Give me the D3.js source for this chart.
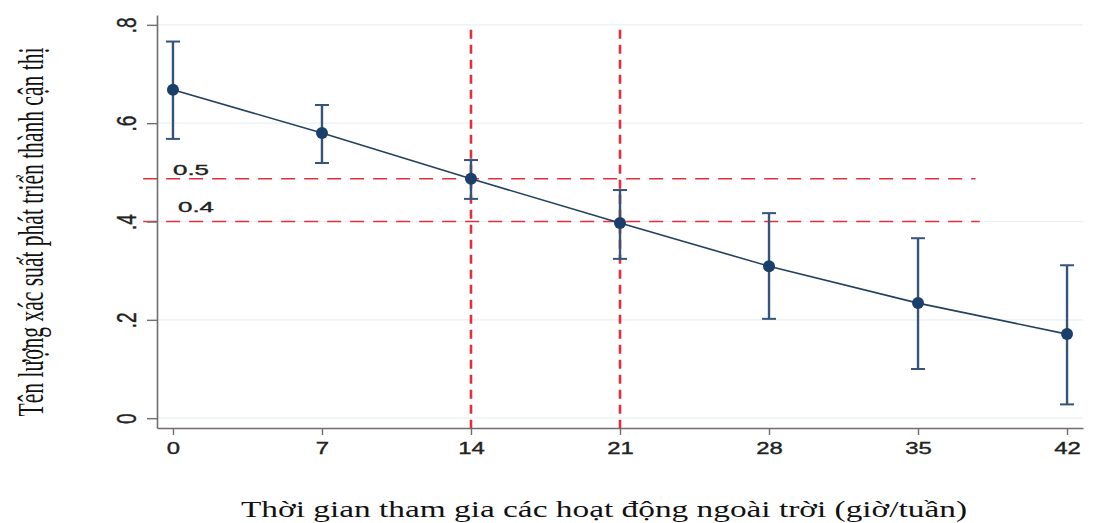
<!DOCTYPE html>
<html>
<head>
<meta charset="utf-8">
<script src="https://cdn.jsdelivr.net/npm/d3@7"></script>
<style>
  html, body { margin: 0; padding: 0; background: #fff; }
  svg { display: block; }
</style>
</head>
<body>
<script>
// Outdoor hours per week vs predicted probability of myopia
const hours = [0, 7, 14, 21, 28, 35, 42];
const prob  = [0.668, 0.580, 0.487, 0.397, 0.309, 0.234, 0.171];
const ciLow = [0.568, 0.519, 0.446, 0.324, 0.202, 0.100, 0.028];
const ciHigh = [0.766, 0.637, 0.525, 0.464, 0.417, 0.366, 0.311];

const yTicks = [0, 0.2, 0.4, 0.6, 0.8];
const yTickLabels = ["0", ".2", ".4", ".6", ".8"];

// reference lines
const refY = [0.487, 0.4];
const refYLabels = ["0.5", "0.4"];
const refYEnd = [37.7, 37.9];
const refX = [14, 21];

const width = 1095;
const height = 523;

const svg = d3.select("body").append("svg")
  .attr("width", width)
  .attr("height", height);

const x = d3.scaleLinear().domain([-0.75, 42.75]).range([157, 1083]);
const y = d3.scaleLinear().domain([-0.02, 0.82]).range([428, 15]);

// grid lines
svg.append("g")
  .selectAll("line")
  .data(yTicks)
  .join("line")
  .attr("x1", x(-0.75))
  .attr("x2", x(42.75))
  .attr("y1", d => y(d))
  .attr("y2", d => y(d))
  .attr("stroke", "#e9eff2")
  .attr("stroke-width", 1.2);

// horizontal dashed reference lines
svg.append("g")
  .selectAll("line")
  .data(refY)
  .join("line")
  .attr("x1", x(-1.4))
  .attr("x2", (d, i) => x(refYEnd[i]))
  .attr("y1", d => y(d))
  .attr("y2", d => y(d))
  .attr("stroke", "#e0303d")
  .attr("stroke-width", 1.4)
  .attr("stroke-dasharray", "14,9");

// vertical dashed reference lines
svg.append("g")
  .selectAll("line")
  .data(refX)
  .join("line")
  .attr("x1", d => x(d))
  .attr("x2", d => x(d))
  .attr("y1", y(0.79))
  .attr("y2", y(-0.024))
  .attr("stroke", "#e0303d")
  .attr("stroke-width", 2.6)
  .attr("stroke-dasharray", "9,6");

// axes
const yAxis = svg.append("g")
  .attr("transform", `translate(${x(-0.75)},0)`)
  .call(d3.axisLeft(y).tickValues(yTicks).tickSize(10).tickSizeOuter(0)
    .tickFormat((d, i) => yTickLabels[i]));
yAxis.select(".domain").attr("stroke", "#6e6e6e").attr("stroke-width", 1.6);
yAxis.selectAll(".tick line").attr("stroke", "#6e6e6e").attr("stroke-width", 1.4);
yAxis.selectAll(".tick text")
  .attr("x", null).attr("dy", null)
  .attr("text-anchor", "middle")
  .attr("transform", "translate(-21,0) rotate(-90) scale(0.68,1)")
  .attr("font-family", "Liberation Sans, Arial, sans-serif")
  .attr("font-size", 28)
  .attr("fill", "#222")
  .attr("stroke", "#222")
  .attr("stroke-width", 0.4);

const xAxis = svg.append("g")
  .attr("transform", `translate(0,${y(-0.02)})`)
  .call(d3.axisBottom(x).tickValues(hours).tickSize(7).tickSizeOuter(0));
xAxis.select(".domain").attr("stroke", "#6e6e6e").attr("stroke-width", 1.6);
xAxis.selectAll(".tick line").attr("stroke", "#6e6e6e").attr("stroke-width", 1.4);
xAxis.selectAll(".tick text")
  .attr("y", 26).attr("dy", null)
  .attr("transform", "scale(1.45,1)")
  .attr("font-family", "Liberation Sans, Arial, sans-serif")
  .attr("font-size", 16.5)
  .attr("fill", "#222")
  .attr("stroke", "#222")
  .attr("stroke-width", 0.35);

// reference labels
svg.append("g")
  .selectAll("text")
  .data(refYLabels)
  .join("text")
  .attr("x", (d, i) => i === 0 ? 173 : 178)
  .attr("y", (d, i) => i === 0 ? 175 : 212)
  .attr("textLength", 36)
  .attr("lengthAdjust", "spacingAndGlyphs")
  .attr("font-family", "Liberation Sans, Arial, sans-serif")
  .attr("font-size", 14.5)
  .attr("fill", "#222")
  .attr("stroke", "#222")
  .attr("stroke-width", 0.35)
  .text(d => d);

// error bars
const pts = hours.map((h, i) => ({ h, p: prob[i], lo: ciLow[i], hi: ciHigh[i] }));
const errColor = "#36547a";
const bars = svg.append("g");
bars.selectAll(".stem")
  .data(pts)
  .join("line")
  .attr("x1", d => x(d.h)).attr("x2", d => x(d.h))
  .attr("y1", d => y(d.lo)).attr("y2", d => y(d.hi))
  .attr("stroke", errColor).attr("stroke-width", 2.4);
bars.selectAll(".capHi")
  .data(pts)
  .join("line")
  .attr("x1", d => x(d.h) - 7).attr("x2", d => x(d.h) + 7)
  .attr("y1", d => y(d.hi)).attr("y2", d => y(d.hi))
  .attr("stroke", errColor).attr("stroke-width", 2);
bars.selectAll(".capLo")
  .data(pts)
  .join("line")
  .attr("x1", d => x(d.h) - 7).attr("x2", d => x(d.h) + 7)
  .attr("y1", d => y(d.lo)).attr("y2", d => y(d.lo))
  .attr("stroke", errColor).attr("stroke-width", 2);

// connecting line
svg.append("path")
  .datum(pts)
  .attr("fill", "none")
  .attr("stroke", "#23405e")
  .attr("stroke-width", 1.6)
  .attr("d", d3.line().x(d => x(d.h)).y(d => y(d.p)));

// markers
svg.append("g")
  .selectAll("circle")
  .data(pts)
  .join("circle")
  .attr("cx", d => x(d.h))
  .attr("cy", d => y(d.p))
  .attr("r", 6)
  .attr("fill", "#1a3f6b");

// axis titles
const yTitle = svg.append("text")
  .attr("text-anchor", "middle")
  .attr("font-family", "Liberation Serif, Times New Roman, serif")
  .attr("font-size", 21)
  .attr("fill", "#111")
  .text("Tên lượng xác suất phát triển thành cận thị");
const yTitleLen = yTitle.node().getComputedTextLength();
yTitle.attr("transform", `translate(43,232) rotate(-90) scale(${369 / yTitleLen},1.7)`);

svg.append("text")
  .attr("x", 604)
  .attr("y", 517)
  .attr("text-anchor", "middle")
  .attr("textLength", 726)
  .attr("lengthAdjust", "spacingAndGlyphs")
  .attr("font-family", "Liberation Serif, Times New Roman, serif")
  .attr("font-size", 22.5)
  .attr("fill", "#111")
  .text("Thời gian tham gia các hoạt động ngoài trời (giờ/tuần)");
</script>
</body>
</html>
